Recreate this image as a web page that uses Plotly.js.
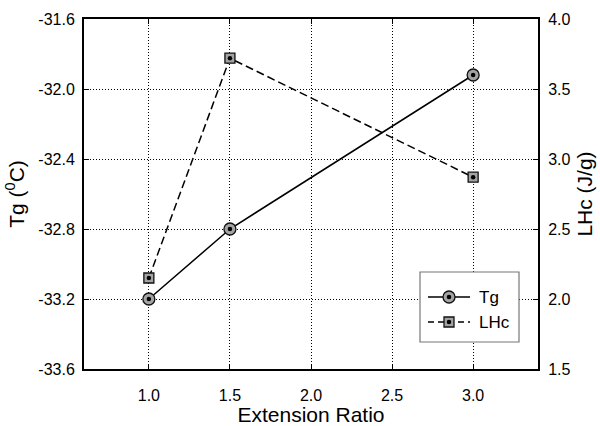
<!DOCTYPE html>
<html>
<head>
<meta charset="utf-8">
<script src="https://cdn.plot.ly/plotly-3.0.1.min.js"></script>
<style>
  html, body { margin: 0; padding: 0; background: #fff; }
  #chart { width: 600px; height: 426px; }
</style>
</head>
<body>
<div id="chart"></div>
<script>
// Extension ratio vs glass transition temperature and heat of crystallization
const extensionRatio = [1.0, 1.5, 3.0];
const tgValues = [-33.2, -32.8, -31.92];      // Tg (°C), left axis
const lhcValues = [2.15, 3.72, 2.87];          // LHc (J/g), right axis
const seriesNames = ['Tg', 'LHc'];
const xTicks = [1.0, 1.5, 2.0, 2.5, 3.0];
const yTicks = [-33.6, -33.2, -32.8, -32.4, -32.0, -31.6];
const y2Ticks = [1.5, 2.0, 2.5, 3.0, 3.5, 4.0];

const FONT = 'Liberation Sans, Arial, sans-serif';
const GRAY = '#a3a3a3';

const traces = [
  {
    x: extensionRatio, y: tgValues, name: seriesNames[0], yaxis: 'y',
    mode: 'lines+markers', showlegend: false,
    line: { color: '#000', width: 1.5 },
    marker: { symbol: 'circle', size: 12, color: GRAY, line: { color: '#111', width: 1.3 } }
  },
  {
    x: extensionRatio, y: tgValues, yaxis: 'y', mode: 'markers', showlegend: false,
    hoverinfo: 'skip',
    marker: { symbol: 'circle', size: 4.5, color: '#000' }
  },
  {
    x: extensionRatio, y: lhcValues, name: seriesNames[1], yaxis: 'y2',
    mode: 'lines+markers', showlegend: false,
    line: { color: '#000', width: 1.5, dash: '8px,4px' },
    marker: { symbol: 'square', size: 10, color: GRAY, line: { color: '#111', width: 1.3 } }
  },
  {
    x: extensionRatio, y: lhcValues, yaxis: 'y2', mode: 'markers', showlegend: false,
    hoverinfo: 'skip',
    marker: { symbol: 'circle', size: 4.5, color: '#000' }
  }
];

// Plot area in pixels, used to place the key box
const L = 84, R = 538, T = 19, B = 369;
const px = v => (v - L) / (R - L);
const py = v => (B - v) / (B - T);

const keyLeft = 420, keyRight = 519, keyTop = 272, keyBottom = 342;
const rowY = [297, 322];
const symX = 449;

const shapes = [
  { type: 'rect', xref: 'paper', yref: 'paper',
    x0: px(keyLeft), x1: px(keyRight), y0: py(keyBottom), y1: py(keyTop),
    fillcolor: '#fff', line: { color: '#777', width: 1.2 }, layer: 'above' },
  { type: 'line', xref: 'paper', yref: 'paper',
    x0: px(428), x1: px(470), y0: py(rowY[0]), y1: py(rowY[0]),
    line: { color: '#000', width: 1.5 }, layer: 'above' },
  { type: 'line', xref: 'paper', yref: 'paper',
    x0: px(428), x1: px(470), y0: py(rowY[1]), y1: py(rowY[1]),
    line: { color: '#000', width: 1.5, dash: '6px,4px' }, layer: 'above' },
  { type: 'circle', xref: 'paper', yref: 'paper', xsizemode: 'pixel', ysizemode: 'pixel',
    xanchor: px(symX), yanchor: py(rowY[0]), x0: -6, x1: 6, y0: -6, y1: 6,
    fillcolor: GRAY, line: { color: '#111', width: 1.3 }, layer: 'above' },
  { type: 'circle', xref: 'paper', yref: 'paper', xsizemode: 'pixel', ysizemode: 'pixel',
    xanchor: px(symX), yanchor: py(rowY[0]), x0: -2.3, x1: 2.3, y0: -2.3, y1: 2.3,
    fillcolor: '#000', line: { width: 0 }, layer: 'above' },
  { type: 'rect', xref: 'paper', yref: 'paper', xsizemode: 'pixel', ysizemode: 'pixel',
    xanchor: px(symX), yanchor: py(rowY[1]), x0: -5, x1: 5, y0: -5, y1: 5,
    fillcolor: GRAY, line: { color: '#111', width: 1.3 }, layer: 'above' },
  { type: 'circle', xref: 'paper', yref: 'paper', xsizemode: 'pixel', ysizemode: 'pixel',
    xanchor: px(symX), yanchor: py(rowY[1]), x0: -2.3, x1: 2.3, y0: -2.3, y1: 2.3,
    fillcolor: '#000', line: { width: 0 }, layer: 'above' }
];

const annotations = seriesNames.map((name, i) => ({
  xref: 'paper', yref: 'paper', x: px(477), y: py(rowY[i]),
  xanchor: 'left', yanchor: 'middle', text: name, showarrow: false,
  font: { family: FONT, size: 17, color: '#000' }
}));

const axisCommon = {
  showline: true, linecolor: '#000', linewidth: 2,
  ticks: 'inside', ticklen: 5, tickwidth: 1, tickcolor: '#000',
  showgrid: true, gridcolor: '#000', gridwidth: 1, griddash: '1px,2px',
  zeroline: false,
  tickfont: { family: FONT, size: 16, color: '#000' }
};

const layout = {
  width: 600, height: 426,
  margin: { l: L, r: 600 - R, t: T, b: 426 - B, pad: 0 },
  paper_bgcolor: '#fff', plot_bgcolor: '#fff',
  showlegend: false,
  xaxis: Object.assign({}, axisCommon, {
    range: [0.6, 3.4], tickvals: xTicks, ticktext: xTicks.map(v => v.toFixed(1)),
    mirror: 'ticks', ticklabelstandoff: 11,
    title: { text: 'Extension Ratio', font: { family: FONT, size: 21, color: '#000' }, standoff: 2 }
  }),
  yaxis: Object.assign({}, axisCommon, {
    range: [-33.6, -31.6], tickvals: yTicks, ticktext: yTicks.map(v => v.toFixed(1)),
    ticklabelstandoff: 4,
    title: { text: 'Tg (<sup>0</sup>C)', font: { family: FONT, size: 21, color: '#000' }, standoff: 8 }
  }),
  yaxis2: Object.assign({}, axisCommon, {
    range: [1.5, 4.0], tickvals: y2Ticks, ticktext: y2Ticks.map(v => v.toFixed(1)),
    overlaying: 'y', side: 'right', showgrid: false, ticklabelstandoff: 5,
    title: { text: 'LHc (J/g)', font: { family: FONT, size: 21, color: '#000' }, standoff: 8 }
  }),
  shapes: shapes,
  annotations: annotations
};

Plotly.newPlot('chart', traces, layout, { displayModeBar: false, staticPlot: true });
</script>
</body>
</html>
